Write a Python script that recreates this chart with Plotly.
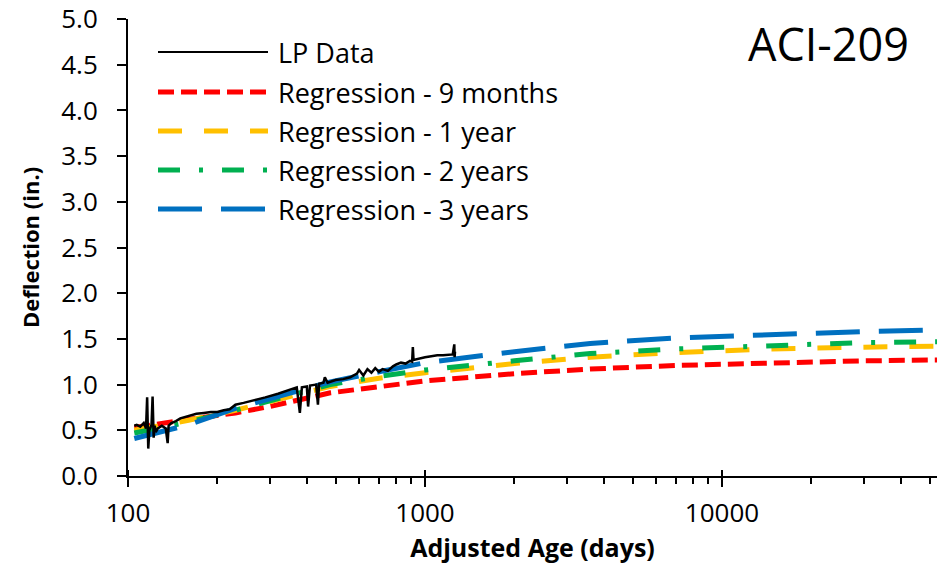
import plotly.graph_objects as go
import math

# ---------------- data ----------------
lp_age = [105, 107, 110, 113, 115, 116, 117, 118, 120, 121, 122, 123, 124, 126, 130, 134, 136, 137,
          140, 145, 150, 160, 170, 180, 190, 200, 210, 220, 230, 245, 260, 275, 290, 320, 350, 370,
          379, 385, 400, 404, 410, 430, 436, 440, 455, 460, 470, 500, 530, 560, 590, 600, 620, 640,
          660, 680, 700, 720, 750, 780, 800, 830, 860, 890, 905, 910, 915, 940, 980, 1000, 1050,
          1100, 1150, 1200, 1240, 1255, 1258, 1262]
lp_defl = [0.55, 0.56, 0.54, 0.58, 0.52, 0.86, 0.30, 0.50, 0.56, 0.87, 0.42, 0.55, 0.48, 0.52, 0.55, 0.52, 0.36, 0.55,
           0.58, 0.60, 0.63, 0.66, 0.68, 0.69, 0.70, 0.70, 0.72, 0.73, 0.78, 0.80, 0.82, 0.84, 0.86, 0.90, 0.94, 0.97,
           0.69, 0.97, 0.98, 0.76, 0.99, 1.00, 0.78, 1.01, 1.02, 1.08, 1.02, 1.05, 1.06, 1.08, 1.12, 1.16, 1.10, 1.17,
           1.13, 1.18, 1.14, 1.17, 1.15, 1.20, 1.22, 1.24, 1.23, 1.26, 1.25, 1.41, 1.27, 1.28, 1.29, 1.30, 1.31,
           1.32, 1.32, 1.33, 1.33, 1.44, 1.30, 1.36]

reg_age = [105, 130, 160, 230, 300, 480, 700, 1000, 2000, 3600, 7000, 14500, 30000, 55000]
reg_9m = [0.53, 0.58, 0.62, 0.69, 0.76, 0.91, 0.98, 1.04, 1.12, 1.17, 1.21, 1.24, 1.26, 1.27]
reg_1y = [0.50, 0.55, 0.61, 0.72, 0.81, 0.98, 1.07, 1.13, 1.23, 1.30, 1.35, 1.39, 1.41, 1.42]
reg_2y = [0.47, 0.53, 0.59, 0.72, 0.82, 1.00, 1.09, 1.16, 1.26, 1.34, 1.39, 1.43, 1.46, 1.47]
reg_3y = [0.41, 0.48, 0.56, 0.74, 0.84, 1.03, 1.14, 1.24, 1.36, 1.45, 1.51, 1.55, 1.58, 1.60]

series_names = ["LP Data", "Regression - 9 months", "Regression - 1 year",
                "Regression - 2 years", "Regression - 3 years"]
x_tickvals = [100, 1000, 10000]
x_ticktext = ["100", "1000", "10000"]

# ---------------- styles ----------------
colors = ["#000000", "#FF0000", "#FFC000", "#00B050", "#0070C0"]
dashes = ["solid", "16px,7px", "24px,22px", "22px,19px,4px,19px", "44px,19px"]
widths = [2.5, 5, 5, 5, 5]

fig = go.Figure()
ys = [lp_defl, reg_9m, reg_1y, reg_2y, reg_3y]
xs = [lp_age, reg_age, reg_age, reg_age, reg_age]
for i in [1, 2, 3, 4, 0]:
    fig.add_trace(go.Scatter(
        x=xs[i], y=ys[i], mode="lines", name=series_names[i],
        line=dict(color=colors[i], width=widths[i], dash=dashes[i]),
        showlegend=False))

# manual legend (line samples + text) in paper coordinates
L, R, T, B = 128, 0, 19, 94
W, H = 937, 570
pw, ph = W - L - R, H - T - B


def px_x(p):
    return (p - L) / pw


def px_y(p):
    return (H - B - p) / ph


rows = [52, 92, 131, 170, 209]
for i, name in enumerate(series_names):
    fig.add_shape(type="line", xref="paper", yref="paper",
                  x0=px_x(158), x1=px_x(268), y0=px_y(rows[i]), y1=px_y(rows[i]),
                  line=dict(color=colors[i], width=widths[i] if i else 2, dash=dashes[i]))
    fig.add_annotation(text=name, xref="paper", yref="paper", x=px_x(276), y=px_y(rows[i]),
                       xanchor="left", yanchor="middle", showarrow=False,
                       font=dict(family="Open Sans", size=27, color="#000000"))

fig.add_annotation(text="ACI-209", xref="paper", yref="paper", x=px_x(828), y=px_y(44),
                   xanchor="center", yanchor="middle", showarrow=False,
                   font=dict(family="Open Sans", size=45, color="#000000"))

# upper halves of the major x ticks (reference ticks cross the axis)
for tv in x_tickvals:
    fig.add_shape(type="line", xref="x", yref="paper", x0=tv, x1=tv,
                  y0=0, y1=6 / ph, line=dict(color="#000000", width=2))

fig.update_xaxes(type="log", range=[2, math.log10(100 * 10 ** ((937 - 128) / 297))],
                 tickvals=x_tickvals, ticktext=x_ticktext,
                 showline=True, linecolor="#000000", linewidth=2,
                 ticks="outside", ticklen=9, tickwidth=2, tickcolor="#000000",
                 minor=dict(ticks="outside", ticklen=6, tickwidth=2, tickcolor="#000000",
                            dtick="D1", showgrid=False),
                 showgrid=False, zeroline=False,
                 tickfont=dict(family="Open Sans", size=26, color="#000000"),
                 ticklabelstandoff=4,
                 title=dict(text="<b>Adjusted Age (days)</b>", standoff=10,
                            font=dict(family="Open Sans", size=25, color="#000000")))
fig.update_yaxes(range=[0, 5], dtick=0.5, tick0=0, tickformat=".1f",
                 showline=True, linecolor="#000000", linewidth=2,
                 ticks="outside", ticklen=9, tickwidth=2, tickcolor="#000000",
                 showgrid=False, zeroline=False,
                 tickfont=dict(family="Open Sans", size=26, color="#000000"),
                 ticklabelstandoff=14,
                 title=dict(text="<b>Deflection (in.)</b>", standoff=16,
                            font=dict(family="Open Sans", size=22, color="#000000")))

fig.update_layout(width=W, height=H, margin=dict(l=L, r=R, t=T, b=B),
                  plot_bgcolor="#FFFFFF", paper_bgcolor="#FFFFFF")

fig.write_html("out.html")
